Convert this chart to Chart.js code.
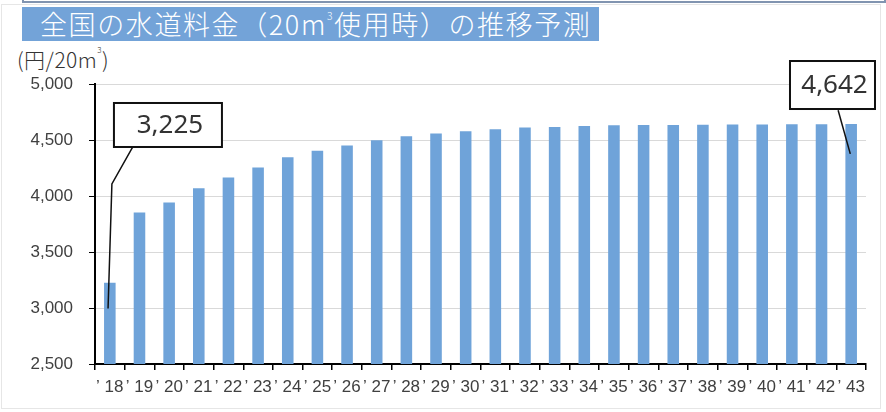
<!DOCTYPE html>
<html>
<head>
<meta charset="utf-8">
<script src="https://cdn.jsdelivr.net/npm/chart.js@4.4.1/dist/chart.umd.min.js"></script>
<style>
  html,body{margin:0;padding:0;background:#fff;}
  #wrap{position:relative;width:886px;height:412px;overflow:hidden;background:#fff;}
  #frame{position:absolute;left:1px;top:4px;width:880px;height:405px;border:1px solid #e6e6e6;box-sizing:border-box;}
  #topbox{position:absolute;left:22px;top:-20px;width:864px;height:23px;border:2px solid #8194b0;box-sizing:border-box;}
  #title{position:absolute;left:22px;top:7px;width:577px;height:34px;background:#73a3d8;color:#fff;
    font-family:"Noto Sans CJK JP","Noto Sans",sans-serif;font-weight:300;font-size:27px;line-height:34px;
    padding-left:18px;letter-spacing:1.6px;box-sizing:border-box;white-space:nowrap;}
  #unit{position:absolute;left:17px;top:44px;font-family:"Noto Sans CJK JP","Noto Sans",sans-serif;font-weight:300;font-size:21px;color:#333;white-space:nowrap;letter-spacing:0.5px;}
  .sup{font-size:0.38em;vertical-align:top;position:relative;top:0.05em;}
  #title .sup{line-height:1;top:4px;}
  canvas{position:absolute;left:0;top:0;}
</style>
</head>
<body>
<div id="wrap">
  <div id="frame"></div>
  <div id="topbox"></div>
  <div id="title">全国の水道料金（20m<span class="sup">3</span>使用時）の推移予測</div>
  <div id="unit">(円/20m<span class="sup">3</span>)</div>
  <canvas id="c" width="886" height="412"></canvas>
</div>
<script>
// ---- data ----
const years = ["’ 18","’ 19","’ 20","’ 21","’ 22","’ 23","’ 24","’ 25","’ 26","’ 27","’ 28","’ 29","’ 30",
               "’ 31","’ 32","’ 33","’ 34","’ 35","’ 36","’ 37","’ 38","’ 39","’ 40","’ 41","’ 42","’ 43"];
const charges = [3225,3853,3942,4070,4165,4254,4347,4403,4450,4498,4534,4557,4578,
                 4596,4612,4617,4625,4632,4634,4635,4637,4638,4639,4640,4641,4642];
const yMin = 2500, yMax = 5000, yStep = 500;

// callouts: label from data index; box and leader given in axis units
const callouts = [
  {index:0,  box:{x:1.96, y:4634, w:108, h:44}, path:[[0.85,4474],[0.07,4108],[-0.06,2995]]},
  {index:25, box:{x:24.37, y:4991, w:85, h:48}, path:[[24.56,4766],[24.97,4376]]}
];

const fmt = v => Number(v).toLocaleString('en-US');

const calloutPlugin = {
  id:'callouts',
  afterDatasetsDraw(chart){
    const ctx = chart.ctx, xs = chart.scales.x, ys = chart.scales.y;
    ctx.save();
    callouts.forEach(c=>{
      ctx.strokeStyle = '#111';
      ctx.lineWidth = 1.5;
      ctx.beginPath();
      c.path.forEach((p,i)=>{
        const px = xs.getPixelForValue(p[0]), py = ys.getPixelForValue(p[1]);
        if(i===0) ctx.moveTo(px,py); else ctx.lineTo(px,py);
      });
      ctx.stroke();
      const cx = xs.getPixelForValue(c.box.x), cy = ys.getPixelForValue(c.box.y);
      const x0 = cx - c.box.w/2, y0 = cy - c.box.h/2;
      ctx.fillStyle = '#fff';
      ctx.fillRect(x0,y0,c.box.w,c.box.h);
      ctx.lineWidth = 2;
      ctx.strokeStyle = '#111';
      ctx.strokeRect(x0,y0,c.box.w,c.box.h);
      ctx.fillStyle = '#333';
      ctx.font = '26px "Noto Sans", sans-serif';
      ctx.textAlign = 'center';
      ctx.textBaseline = 'middle';
      ctx.fillText(fmt(charges[c.index]), cx+2, cy+1);
    });
    ctx.restore();
  }
};

new Chart(document.getElementById('c'), {
  type:'bar',
  data:{
    labels: years,
    datasets:[{data: charges, backgroundColor:'#6fa3d9', borderWidth:0,
      barPercentage:0.39, categoryPercentage:1.0}]
  },
  options:{
    responsive:false,
    animation:false,
    layout:{padding:{top:84,right:20,bottom:0,left:0}},
    plugins:{legend:{display:false}, tooltip:{enabled:false}, title:{display:false}},
    scales:{
      x:{
        afterFit(s){ s.height = 48; },
        grid:{display:true, drawOnChartArea:false, drawTicks:true, tickLength:6, color:'#000', lineWidth:1.5},
        border:{display:true, color:'#000', width:2},
        ticks:{color:'#404040', padding:7, maxRotation:0, autoSkip:false,
          font:{family:'"Liberation Sans", Arial, sans-serif', size:17}}
      },
      y:{
        min:yMin, max:yMax,
        afterFit(s){ s.width = 95; },
        grid:{color:'#d9d9d9', lineWidth:1, tickColor:'#000', tickLength:6},
        border:{display:true, color:'#000', width:2},
        ticks:{stepSize:yStep, padding:16, color:'#404040', callback:v=>fmt(v),
          font:{family:'"Liberation Sans", Arial, sans-serif', size:17}}
      }
    }
  },
  plugins:[calloutPlugin]
});
</script>
</body>
</html>
